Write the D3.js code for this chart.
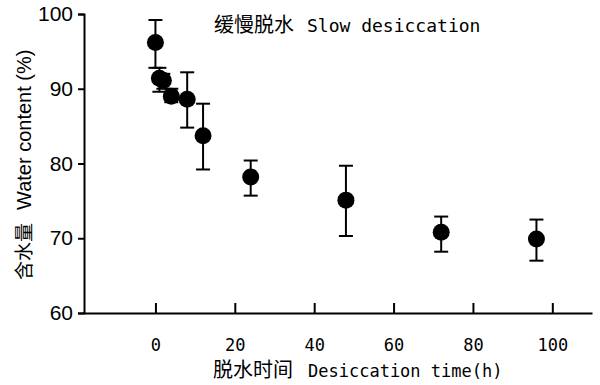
<!DOCTYPE html>
<html>
<head>
<meta charset="utf-8">
<script src="https://cdn.jsdelivr.net/npm/d3@7"></script>
<style>
  body { margin: 0; background: #fff; }
  svg { display: block; }
  .mono { font-family: "DejaVu Sans Mono", "Noto Sans CJK SC", monospace; }
  .cjk { font-family: "Noto Sans CJK SC", sans-serif; }
  .sans { font-family: "Liberation Sans", Arial, sans-serif; }
</style>
</head>
<body>
<div id="chart"></div>
<script>
// desiccation time (h)
var hours = [0, 1, 2, 4, 8, 12, 24, 48, 72, 96]
// water content (%)
var water = [96.2, 91.4, 91.1, 89.0, 88.6, 83.7, 78.2, 75.1, 70.8, 69.9]
// error bar ends
var errTop = [99.2, 92.8, 92.0, 90.0, 92.2, 88.0, 80.4, 79.7, 72.9, 72.5]
var errBot = [92.8, 89.6, 90.0, 88.2, 84.8, 79.2, 75.7, 70.3, 68.2, 67.0]

var xTicks = [0, 20, 40, 60, 80, 100]
var yTicks = [60, 70, 80, 90, 100]

// titles: [chinese part, latin part]
var title = ['缓慢脱水', 'Slow desiccation'],
    xTitle = ['脱水时间', 'Desiccation time(h)'],
    yTitle = ['含水量', 'Water content (%)']

var svgWidth = 600,
    svgHeight = 385
var margin = { top: 14, right: 8, bottom: 72, left: 84 }
var width = svgWidth - margin.left - margin.right,
    height = svgHeight - margin.top - margin.bottom

var data = hours.map((h, i) => ({ h: h, v: water[i], hi: errTop[i], lo: errBot[i] }))

var svg = d3.select('#chart').append('svg')
    .attr('width', svgWidth)
    .attr('height', svgHeight)
    .append('g')
    .attr('transform', 'translate(' + margin.left + ',' + margin.top + ')')

var xScale = d3.scaleLinear().domain([-18, 110]).range([0, width])
var yScale = d3.scaleLinear().domain([60, 100]).range([height, 0])

// y axis, ticks outward
var yAxis = svg.append('g')
    .call(d3.axisLeft(yScale).tickValues(yTicks).tickSizeOuter(0).tickSize(6).tickPadding(5))
yAxis.selectAll('path, line').attr('stroke', '#000').attr('stroke-width', 2)
yAxis.selectAll('text')
    .attr('fill', '#000')
    .attr('class', 'sans')
    .style('font-size', '21px')

// x axis, ticks pointing up into the plot
var xAxis = svg.append('g')
    .attr('transform', 'translate(0,' + height + ')')
    .call(d3.axisBottom(xScale).tickValues(xTicks).tickSizeOuter(0).tickSizeInner(-10).tickPadding(26))
xAxis.selectAll('path, line').attr('stroke', '#000').attr('stroke-width', 2)
xAxis.selectAll('text')
    .attr('fill', '#000')
    .attr('class', 'mono')
    .style('font-size', '17px')

// error bars
var cap = 7
var bars = svg.selectAll('.err')
    .data(data)
    .enter()
    .append('g')
    .attr('class', 'err')
    .attr('stroke', '#000')
    .attr('stroke-width', 2)
bars.append('line')
    .attr('x1', d => xScale(d.h)).attr('x2', d => xScale(d.h))
    .attr('y1', d => yScale(d.hi)).attr('y2', d => yScale(d.lo))
bars.append('line')
    .attr('x1', d => xScale(d.h) - cap).attr('x2', d => xScale(d.h) + cap)
    .attr('y1', d => yScale(d.hi)).attr('y2', d => yScale(d.hi))
bars.append('line')
    .attr('x1', d => xScale(d.h) - cap).attr('x2', d => xScale(d.h) + cap)
    .attr('y1', d => yScale(d.lo)).attr('y2', d => yScale(d.lo))

// points
svg.selectAll('circle')
    .data(data)
    .enter()
    .append('circle')
    .attr('cx', d => xScale(d.h))
    .attr('cy', d => yScale(d.v))
    .attr('r', 8.5)
    .attr('fill', '#000')

// chinese part + latin part in one text element
function mixedText(sel, parts, cjkSize, latinSize, latinClass, gap) {
    sel.append('tspan').attr('class', 'cjk').style('font-size', cjkSize + 'px').text(parts[0])
    sel.append('tspan').attr('class', latinClass).attr('dx', gap)
        .style('font-size', latinSize + 'px').text(parts[1])
}

// title inside plot
svg.append('text')
    .attr('x', 130)
    .attr('y', 18)
    .call(mixedText, title, 20, 18, 'mono', 13)

// axis titles
svg.append('text')
    .attr('x', 129)
    .attr('y', height + 64)
    .call(mixedText, xTitle, 20, 17, 'mono', 15)

svg.append('text')
    .attr('x', -(280 - margin.top))
    .attr('y', -53)
    // rotates counterclockwise around the group origin
    .attr('transform', 'rotate(-90)')
    .call(mixedText, yTitle, 19, 20, 'sans', 13)
</script>
</body>
</html>
